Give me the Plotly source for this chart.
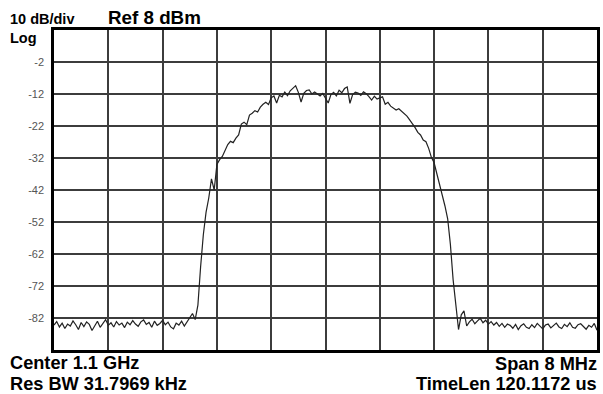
import numpy as np
import plotly.graph_objects as go

# ---- data (dBm), frequency offset from center in MHz ----
floor_left = [-84.2, -83.1, -84.8, -83.6, -85.3, -83.9, -84.5, -82.9, -84.1, -85.6,
              -83.4, -84.7, -83.2, -84.0, -85.9, -84.4, -83.0, -84.9, -83.7, -82.5,
              -84.3, -83.5, -84.8, -83.1, -84.2, -83.6, -85.0, -83.3, -84.1, -82.8,
              -83.9, -84.6, -83.2, -82.6, -84.0, -83.4, -84.9, -83.0, -84.3, -83.7,
              -82.7, -84.1, -83.3, -84.8, -85.4, -83.6, -84.2, -83.0, -84.5, -83.2,
              -81.8, -80.6]
rise = [-82.5, -78.0, -66.0, -56.0, -49.0, -44.5, -38.5, -42.0, -34.0, -32.5,
        -31.5, -29.5, -27.8, -26.8, -27.2, -25.8, -24.8, -21.4, -20.8, -21.6,
        -18.6, -18.0, -17.2, -17.6, -16.1, -15.2, -14.6, -15.3, -13.2, -12.6,
        -14.8, -12.4, -12.9, -11.4, -12.5, -11.0, -10.2, -9.4]
top = [-11.5, -14.5, -11.8, -10.9, -10.7, -12.0, -11.4, -11.9, -12.6, -11.8,
       -13.3, -14.8, -12.2, -11.5, -12.6, -10.8, -11.6, -10.3, -9.8, -14.9,
       -12.2, -11.4, -11.7, -12.4, -11.3, -11.9, -12.8, -13.9, -12.7, -13.6,
       -13.2, -12.9, -15.2, -14.6, -15.8]
fall = [-16.5, -17.0, -16.6, -17.4, -18.1, -18.9, -20.1, -21.2, -22.5, -24.0,
        -24.8, -26.4, -26.9, -29.0, -31.8, -33.5, -37.0, -39.8, -43.0, -47.0,
        -51.0, -59.0, -70.0, -79.0, -85.6, -81.0, -79.8, -84.5]
floor_right = [-83.2, -82.4, -83.8, -82.9, -82.1, -83.5, -82.7, -83.9, -83.1, -84.2,
               -83.4, -84.6, -83.7, -84.9, -83.9, -84.3, -85.2, -84.0, -85.6, -84.4,
               -83.8, -84.9, -85.3, -84.1, -85.0, -83.7, -84.6, -85.4, -84.2, -83.9,
               -85.1, -84.4, -83.6, -84.8, -85.3, -84.0, -84.7, -83.5, -84.9, -85.2,
               -84.1, -83.8, -84.6, -85.5, -84.3, -84.9, -83.7, -85.8]

power = floor_left + rise + top + fall + floor_right
freq = np.linspace(-4, 4, len(power))

y_ticks = [-2, -12, -22, -32, -42, -52, -62, -72, -82]
y_tick_labels = [str(v) for v in y_ticks]

FONT = "Liberation Sans, Arial, sans-serif"

fig = go.Figure()
fig.add_trace(go.Scatter(x=freq, y=power, mode="lines",
                         line=dict(color="#222222", width=1.2),
                         hoverinfo="skip", showlegend=False))

L, R, T, B = 54, 3, 30, 44
W, H = 603, 394
PW, PH = W - L - R, H - T - B

def px(x):
    return (x - L) / PW

def py(y):
    return (H - B - y) / PH

fig.update_layout(
    width=W, height=H,
    margin=dict(l=L, r=R, t=T, b=B, pad=0),
    paper_bgcolor="white", plot_bgcolor="white",
    xaxis=dict(range=[-4, 4], dtick=0.8, tick0=-4, showticklabels=False,
               showgrid=True, gridcolor="#3c3c3c", gridwidth=1.6,
               zeroline=False, showline=True, linecolor="black", linewidth=2.5,
               mirror=True, ticks=""),
    yaxis=dict(range=[-92, 8], tickvals=y_ticks, ticktext=y_tick_labels,
               showgrid=True, gridcolor="#3c3c3c", gridwidth=1.6,
               zeroline=False, showline=True, linecolor="black", linewidth=2.5,
               mirror=True, ticks="", ticklabelstandoff=5,
               tickfont=dict(family=FONT, size=11, color="#555555")),
)

def ann(text, x, y, size, anchor="left"):
    fig.add_annotation(text=text, xref="paper", yref="paper",
                       x=px(x), y=py(y), xanchor=anchor, yanchor="middle",
                       showarrow=False, borderpad=0,
                       font=dict(family=FONT, size=size, color="black", weight="bold"))

ann("10 dB/div", 9, 18.5, 14.5)
ann("Ref 8 dBm", 107, 18, 18.8)
ann("Log", 9, 37.5, 14.5)
ann("Center 1.1 GHz", 9, 363, 18.2)
ann("Res BW 31.7969 kHz", 9, 383.5, 18.2)
ann("Span 8 MHz", 601, 363.5, 18.2, "right")
ann("TimeLen 120.1172 us", 601, 383.5, 18.2, "right")

fig.write_html("out.html", config={"displayModeBar": False},
               post_script="document.body.style.margin='0';document.body.style.overflow='hidden';")
